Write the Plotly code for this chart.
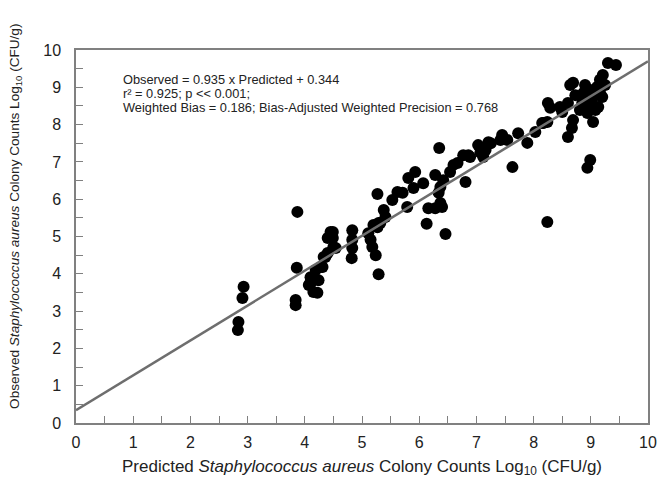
import plotly.graph_objects as go

# Predicted (x) and observed (y) log10 counts
predicted = [2.83, 2.84, 2.91, 2.93, 3.84, 3.84, 3.86, 3.87, 4.07, 4.10,
             4.15, 4.22, 4.19, 4.15, 4.10, 4.28, 4.24, 4.31, 4.36, 4.33,
             4.40, 4.40, 4.49, 4.45, 4.54, 4.50, 4.49, 4.83, 4.83, 4.83,
             4.82, 5.11, 5.15, 5.18, 5.24, 5.29, 5.27, 5.29, 5.38, 5.41,
             5.32, 5.20, 5.27, 5.53, 5.62, 5.71, 5.79, 5.81, 5.93, 5.90,
             6.07, 6.13, 6.28, 6.16, 6.28, 6.40, 6.34, 6.37, 6.42, 6.54,
             6.60, 6.67, 6.77, 6.86, 7.03, 6.81, 6.46, 6.35, 6.37, 6.89,
             7.21, 7.16, 7.12, 7.45, 7.47, 7.54, 7.42, 7.73, 7.89, 7.63,
             8.03, 8.15, 8.24, 8.24, 8.25, 8.29, 8.46, 8.60, 8.64, 8.69,
             8.69, 8.67, 8.60, 9.04, 8.99, 8.94, 8.87, 8.99, 9.11, 9.16,
             9.21, 9.20, 9.13, 9.08, 8.95, 8.85, 8.94, 9.30, 9.44, 8.17,
             8.73, 8.81, 9.02, 9.16, 9.25, 9.08, 8.90, 8.50, 7.07, 7.25]
observed = [2.49, 2.71, 3.35, 3.65, 3.16, 3.30, 4.16, 5.66, 3.70, 3.75,
            3.51, 3.49, 4.10, 3.91, 3.91, 4.18, 3.83, 4.18, 4.45, 4.45,
            4.56, 4.96, 5.12, 5.12, 4.69, 4.72, 4.96, 5.17, 4.91, 4.69,
            4.42, 5.09, 4.91, 4.72, 4.50, 3.99, 5.25, 5.36, 5.71, 5.52,
            5.36, 5.31, 6.14, 5.98, 6.19, 6.17, 5.79, 6.57, 6.73, 6.30,
            6.43, 5.34, 6.65, 5.76, 5.76, 5.79, 6.17, 6.33, 6.51, 6.73,
            6.92, 6.97, 7.18, 7.18, 7.45, 6.46, 5.07, 7.37, 5.90, 7.13,
            7.53, 7.32, 7.13, 7.72, 7.64, 7.59, 7.59, 7.77, 7.51, 6.86,
            7.80, 8.04, 8.07, 5.39, 8.58, 8.45, 8.47, 8.58, 9.06, 9.12,
            8.12, 7.91, 7.67, 8.07, 7.05, 6.84, 8.85, 8.93, 9.01, 9.20,
            9.33, 8.74, 8.47, 8.39, 8.58, 8.58, 8.31, 9.65, 9.60, 8.04,
            8.79, 8.39, 8.66, 8.87, 9.06, 8.79, 9.06, 8.34, 7.25, 7.50]

slope = 0.935
intercept = 0.344
line_x = [0, 10]
line_y = [slope * v + intercept for v in line_x]

annotation_lines = [
    "Observed = 0.935 x Predicted + 0.344",
    "r² = 0.925; p << 0.001;",
    "Weighted Bias = 0.186; Bias-Adjusted Weighted Precision = 0.768",
]

x_title = "Predicted <i>Staphylococcus aureus</i> Colony Counts Log<sub>10</sub> (CFU/g)"
y_title = "Observed <i>Staphylococcus aureus</i> Colony Counts Log<sub>10</sub> (CFU/g)"

FONT = "Liberation Sans, Arial"

fig = go.Figure()
fig.add_trace(go.Scatter(x=predicted, y=observed, mode="markers",
                         marker=dict(color="black", size=12, line=dict(width=0)),
                         showlegend=False))
fig.add_trace(go.Scatter(x=line_x, y=line_y, mode="lines",
                         line=dict(color="#6e6e6e", width=2.5),
                         showlegend=False))

for i, t in enumerate(annotation_lines):
    fig.add_annotation(x=0.79, y=9.21 - i * 0.375, xref="x", yref="y",
                       text=t, showarrow=False, xanchor="left", yanchor="middle",
                       font=dict(family=FONT, size=12.8, color="#222"))

# y-axis title, placed slightly above the axis centre as in the reference
fig.add_annotation(x=-0.105, y=0.555, xref="paper", yref="paper", text=y_title,
                   textangle=-90, showarrow=False, xanchor="center", yanchor="middle",
                   font=dict(family=FONT, size=13.6, color="#222"))

axis_common = dict(range=[0, 10], dtick=1, tick0=0, ticks="inside", ticklen=7,
                   tickcolor="#808080", showline=True, linecolor="#808080",
                   linewidth=1.5, mirror=True, showgrid=False, zeroline=False,
                   automargin=False,
                   tickfont=dict(family=FONT, size=16, color="#222"),
                   minor=dict(dtick=0.5, ticks="inside", ticklen=7, tickcolor="#808080",
                              showgrid=False))

fig.update_xaxes(**axis_common, ticklabelstandoff=4,
                 title=dict(text=x_title,
                            font=dict(family=FONT, size=17, color="#222"),
                            standoff=10))
fig.update_yaxes(**axis_common, ticklabelstandoff=10)

fig.update_layout(width=661, height=478, plot_bgcolor="white", paper_bgcolor="white",
                  margin=dict(l=68, r=21, t=42, b=63))

fig.write_html("out.html")
